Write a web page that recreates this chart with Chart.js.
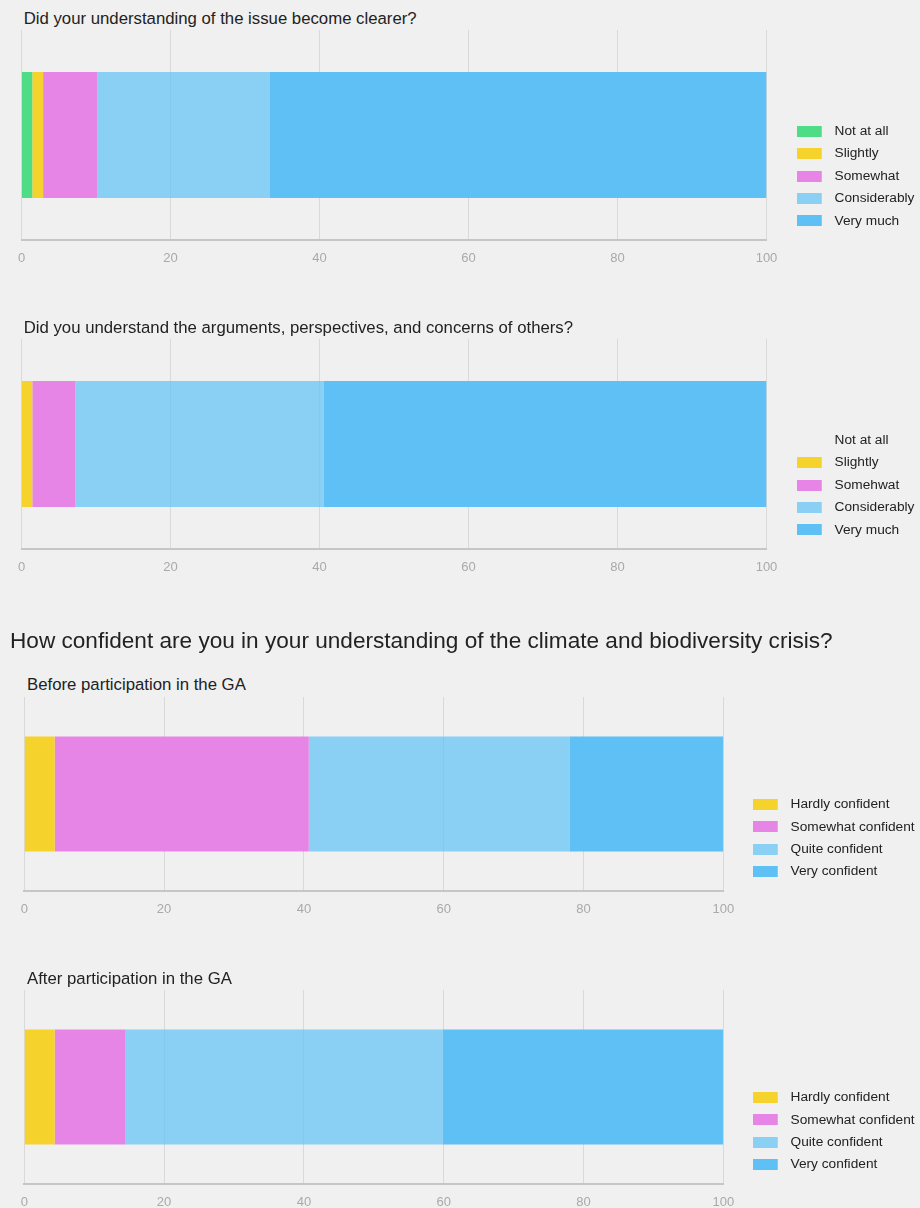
<!DOCTYPE html>
<html>
<head>
<meta charset="utf-8">
<script src="https://cdn.jsdelivr.net/npm/chart.js@4/dist/chart.umd.min.js"></script>
<style>
  html, body { margin: 0; padding: 0; }
  body {
    width: 920px; height: 1208px; overflow: hidden; position: relative;
    background: #f0f0f0;
    font-family: 'Liberation Sans', Arial, sans-serif;
  }
  .title { position: absolute; white-space: nowrap; color: #222; line-height: 1; }
  .small { font-size: 16.75px; }
  .big { font-size: 22.6px; }
  canvas { position: absolute; left: 0; }
</style>
</head>
<body>
<div class="title small" style="left:23.7px; top:11px;">Did your understanding of the issue become clearer?</div>
<canvas id="clarity" width="920" height="292" style="top:30px;"></canvas>

<div class="title small" style="left:23.7px; top:320px;">Did you understand the arguments, perspectives, and concerns of others?</div>
<canvas id="arguments" width="920" height="292" style="top:339px;"></canvas>

<div class="title big" style="left:10px; top:630px;">How confident are you in your understanding of the climate and biodiversity crisis?</div>

<div class="title small" style="left:27px; top:676.5px;">Before participation in the GA</div>
<canvas id="before" width="920" height="282" style="top:697px;"></canvas>

<div class="title small" style="left:27px; top:970.5px;">After participation in the GA</div>
<canvas id="after" width="920" height="282" style="top:990px;"></canvas>

<script>
// Answer categories
const clarityLevels = ['Not at all', 'Slightly', 'Somewhat', 'Considerably', 'Very much'];
const argumentLevels = ['Not at all', 'Slightly', 'Somehwat', 'Considerably', 'Very much'];
const confidenceLevels = ['Hardly confident', 'Somewhat confident', 'Quite confident', 'Very confident'];

// Share of respondents per answer (%)
const clarityShares = [1.45, 1.45, 7.25, 23.2, 66.65];
const argumentShares = [0, 1.45, 5.8, 33.3, 59.45];
const confidenceBefore = [4.35, 36.35, 37.3, 22.0];
const confidenceAfter = [4.35, 10.15, 45.35, 40.15];

// Axis ticks (%)
const xTicks = [0, 20, 40, 60, 80, 100];

// Palette
const GREEN = '#4fdc86';
const YELLOW = '#f6d22c';
const PINK = '#e685e6';
const LIGHT_BLUE = 'rgba(94,192,245,0.7)';
const BLUE = '#5ec0f5';
const NONE = 'rgba(0,0,0,0)';

const clarityColors = [GREEN, YELLOW, PINK, LIGHT_BLUE, BLUE];
const argumentColors = [NONE, YELLOW, PINK, LIGHT_BLUE, BLUE];
const confidenceColors = [YELLOW, PINK, LIGHT_BLUE, BLUE];

Chart.defaults.font.family = "'Liberation Sans', Arial, sans-serif";

// Legend swatch: coloured block followed by a little blank space before the label
const SWATCH_W = 31;
function swatch(color) {
  const c = document.createElement('canvas');
  c.width = SWATCH_W;
  c.height = 11;
  const g = c.getContext('2d');
  g.fillStyle = color;
  g.fillRect(0, 0, 25, 11);
  return c;
}

function stackedBar(id, labels, values, colors, geo) {
  const datasets = labels.map((label, i) => ({
    label,
    data: [values[i]],
    backgroundColor: colors[i],
    borderWidth: 0,
    barPercentage: geo.bar,
    categoryPercentage: 1
  }));
  const swatches = colors.map(swatch);
  return new Chart(document.getElementById(id), {
    type: 'bar',
    data: { labels: [''], datasets },
    options: {
      indexAxis: 'y',
      responsive: false,
      animation: false,
      layout: { padding: { left: geo.left, right: geo.right, top: 0, bottom: 0 } },
      scales: {
        x: {
          stacked: true,
          min: 0,
          max: 100,
          afterBuildTicks: (s) => { s.ticks = xTicks.map(v => ({ value: v })); },
          afterFit: (s) => { s.height = geo.axisH; },
          grid: { color: '#d9d9d9', lineWidth: 1, drawTicks: false },
          border: { color: '#c6c6c6', width: 2 },
          ticks: { color: '#a9a9a9', font: { size: 13 }, padding: 10.5 }
        },
        y: {
          stacked: true,
          position: 'right',
          grid: { display: false },
          border: { display: false },
          ticks: { display: false },
          afterFit: (s) => { s.width = geo.gap; }
        }
      },
      plugins: {
        tooltip: { enabled: false },
        legend: {
          position: 'right',
          align: 'center',
          maxWidth: geo.legendW,
          labels: {
            usePointStyle: true,
            pointStyleWidth: SWATCH_W,
            padding: 8.75,
            color: '#222',
            font: { size: 13.7 },
            generateLabels: (chart) => {
              const items = Chart.defaults.plugins.legend.labels.generateLabels(chart);
              items.forEach(it => { it.pointStyle = swatches[it.datasetIndex]; });
              return items;
            }
          }
        }
      }
    }
  });
}

const wideGeo = { left: 21.5, right: 2.05, gap: 21.45, legendW: 130, axisH: 82, bar: 0.6 };
const narrowGeo = { left: 24.3, right: 1.05, gap: 20.65, legendW: 175, axisH: 88, bar: 0.592 };

stackedBar('clarity', clarityLevels, clarityShares, clarityColors, wideGeo);
stackedBar('arguments', argumentLevels, argumentShares, argumentColors, wideGeo);
stackedBar('before', confidenceLevels, confidenceBefore, confidenceColors, narrowGeo);
stackedBar('after', confidenceLevels, confidenceAfter, confidenceColors, narrowGeo);
</script>
</body>
</html>
